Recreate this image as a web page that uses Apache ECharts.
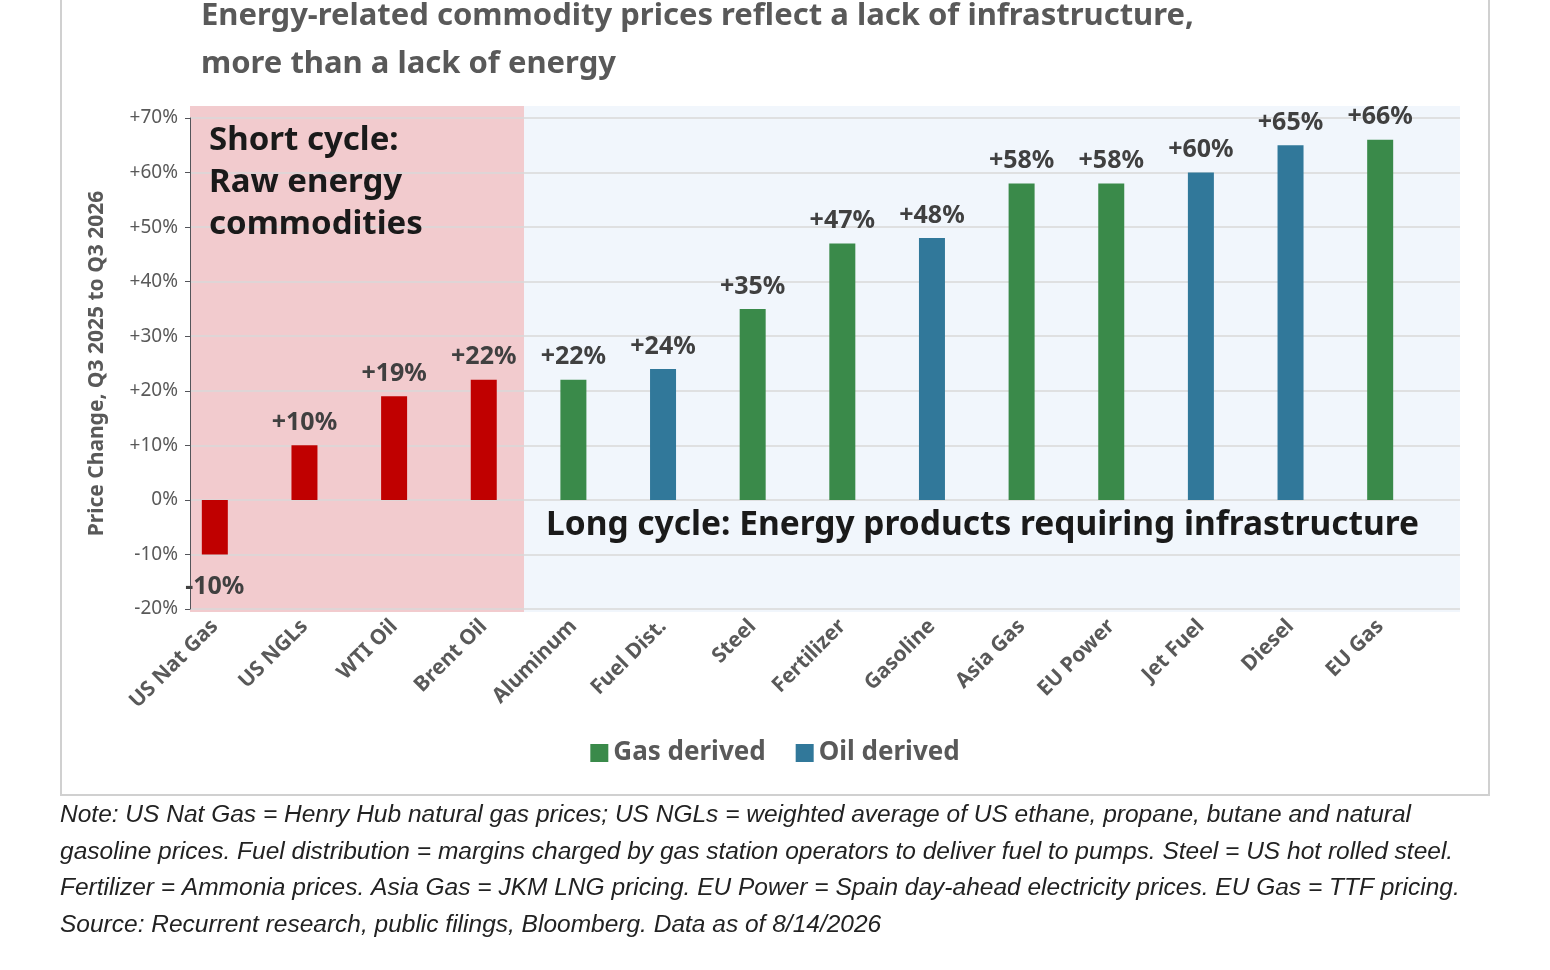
<!DOCTYPE html><html><head><meta charset="utf-8">
<script src="https://cdn.jsdelivr.net/npm/echarts@6/dist/echarts.min.js"></script>
<style>body{margin:0}#c{width:1550px;height:970px}</style></head><body><div id="c"></div>
<script>
const categories=["US Nat Gas","US NGLs","WTI Oil","Brent Oil","Aluminum","Fuel Dist.","Steel","Fertilizer","Gasoline","Asia Gas","EU Power","Jet Fuel","Diesel","EU Gas"];
const rawValues=[-10,10,19,22,null,null,null,null,null,null,null,null,null,null];
const gasValues=[null,null,null,null,22,null,35,47,null,58,58,null,null,66];
const oilValues=[null,null,null,null,null,24,null,null,48,null,null,60,65,null];
const yTicks=[-20,-10,0,10,20,30,40,50,60,70];
const noteLines=["Note: US Nat Gas = Henry Hub natural gas prices; US NGLs = weighted average of US ethane, propane, butane and natural","gasoline prices. Fuel distribution = margins charged by gas station operators to deliver fuel to pumps. Steel = US hot rolled steel.","Fertilizer = Ammonia prices. Asia Gas = JKM LNG pricing. EU Power = Spain day-ahead electricity prices. EU Gas = TTF pricing.","Source: Recurrent research, public filings, Bloomberg. Data as of 8/14/2026"];
const fmt=v=>(v>0?'+':'')+v+'%';
const lab={show:true,position:'top',distance:10,fontFamily:'Noto Sans',fontWeight:'bold',fontSize:25,color:'#404040',formatter:p=>fmt(p.value)};
function mk(name,vals,color){return {name,type:'bar',stack:'a',barWidth:26,xAxisIndex:0,yAxisIndex:0,itemStyle:{color},
 data:vals.map(v=>v==null?'-':(v<0?{value:v,label:{position:'bottom',distance:20}}:v)),label:lab};}
const c=echarts.init(document.getElementById('c'));
c.setOption({
 animation:false,
 title:{text:'Energy-related commodity prices reflect a lack of infrastructure,\nmore than a lack of energy',left:196,top:-13,textStyle:{fontFamily:'Noto Sans',fontWeight:'bold',fontSize:31,color:'#595959',lineHeight:48}},
 legend:{data:['Gas derived','Oil derived'],left:'center',top:735,itemWidth:18,itemHeight:18,itemGap:30,icon:'rect',textStyle:{fontFamily:'Noto Sans',fontWeight:'bold',fontSize:26,color:'#595959'}},
 grid:[{left:170,right:125,top:118,bottom:361},{left:190,right:90,top:118,bottom:361}],
 xAxis:[{type:'category',gridIndex:0,data:categories,boundaryGap:true,axisTick:{show:false},axisLine:{show:false},
  axisLabel:{rotate:45,interval:0,fontFamily:'Noto Sans',fontWeight:'bold',fontSize:21,color:'#595959',margin:14}},
  {type:'value',gridIndex:1,show:false,min:0,max:1}],
 yAxis:[{type:'value',gridIndex:0,min:-20,max:70,interval:10,show:false},
  {type:'value',gridIndex:1,min:-20,max:70,interval:10,name:'Price Change, Q3 2025 to Q3 2026',nameLocation:'middle',nameGap:82,
  nameTextStyle:{fontFamily:'Noto Sans',fontWeight:'bold',fontSize:21,color:'#595959'},
  axisLabel:{formatter:v=>fmt(v),fontFamily:'Noto Sans',fontSize:19,color:'#595959',margin:12},
  splitLine:{lineStyle:{color:'#D9D9D9',width:1.5}}}],
 series:[mk('Raw',rawValues,'#C00000'),mk('Gas derived',gasValues,'#3A8A4A'),mk('Oil derived',oilValues,'#31789A')],
 graphic:[
  {type:'rect',shape:{x:61,y:-2,width:1428,height:797},style:{fill:'none',stroke:'#D0D0D0',lineWidth:2},z:-10},
  {type:'rect',shape:{x:190,y:106,width:334,height:506},style:{fill:'#F2CBCE'},z:-5},
  {type:'rect',shape:{x:524,y:106,width:936,height:506},style:{fill:'#F1F6FC'},z:-5},
  {type:'text',left:209,top:120,style:{text:'Short cycle:\nRaw energy\ncommodities',fontFamily:'Noto Sans',fontWeight:'bold',fontSize:33,lineHeight:42,fill:'#1a1a1a'},z:10},
  {type:'text',left:546,top:508,style:{text:'Long cycle: Energy products requiring infrastructure',fontFamily:'Noto Sans',fontWeight:'bold',fontSize:33.5,fill:'#1a1a1a'},z:10},
  {type:'text',left:60,top:797,style:{text:noteLines.join('\n'),fontFamily:'Liberation Sans',fontStyle:'italic',fontSize:24.5,lineHeight:36.5,fill:'#222'}}
 ]
});
</script></body></html>
